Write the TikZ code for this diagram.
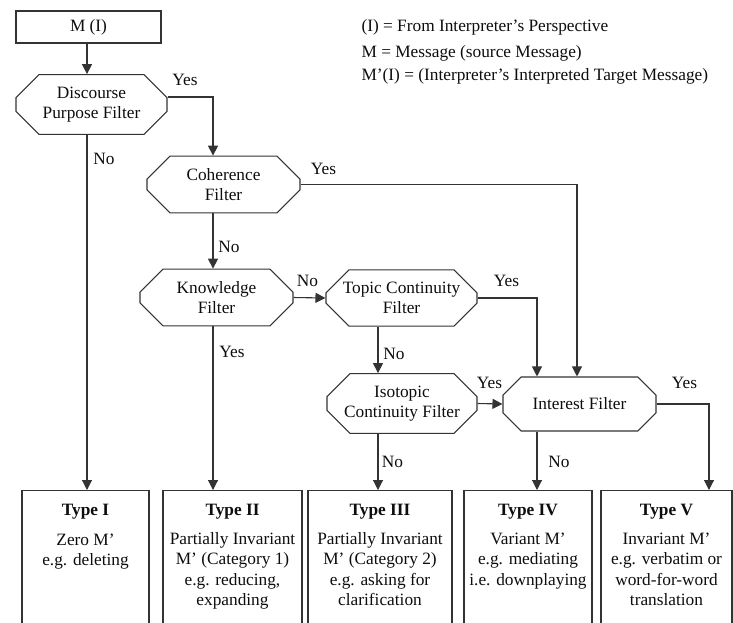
\documentclass[tikz,border=0pt]{standalone}
\usepackage{fontspec}
\setmainfont{Liberation Serif}
\usetikzlibrary{positioning,shapes.misc,arrows.meta,calc}

\tikzset{
  filter/.style={draw, chamfered rectangle, chamfered rectangle xsep=11pt, chamfered rectangle ysep=12pt, minimum width=151pt, minimum height=53pt, inner sep=0pt, align=center},
  typebox/.style={draw, rectangle, minimum height=140pt, anchor=north, inner sep=0pt},
  typetext/.style={anchor=north, align=center, inner sep=0pt},
  lbl/.style={inner sep=0pt},
  flow/.style={-{Triangle[width=10pt,length=10pt]}},
}

\begin{document}
\begin{tikzpicture}[x=1pt, y=-1pt, line width=1.1pt, black!80, text=black!95, font=\fontsize{17.3}{20.5}\selectfont]
  \useasboundingbox (0,0) rectangle (733,622);
  \clip (0,0) rectangle (733,622);
  % columns of the vertical connectors
  \coordinate (colA) at (87,0);
  \coordinate (colB) at (213,0);
  \coordinate (colC) at (378,0);
  \coordinate (colD) at (537,0);
  \coordinate (colE) at (577,0);
  \coordinate (colF) at (709,0);

  % legend
  \node[anchor=base west, inner sep=0pt] (leg1) at (361,31) {(I) = From Interpreter's Perspective};
  \node[anchor=base west, inner sep=0pt] (leg2) at (361,57) {M = Message (source Message)};
  \node[anchor=base west, inner sep=0pt] (leg3) at (361,80) {M'(I) = (Interpreter's Interpreted Target Message)};

  % filters
  \node[draw, rectangle, minimum width=145pt, minimum height=32pt] (mi) at (88.5,27) {M (I)};
  \node[filter] (disc) at (91.5,104.5) {Discourse\\Purpose Filter};
  \node[filter, minimum width=153pt] (coh) at (223.5,184.5) {Coherence\\Filter};
  \node[filter, minimum width=153pt] (know) at (216.5,297.5) {Knowledge\\Filter};
  \node[filter, minimum height=52pt] (topic) at (401.5,298) {Topic Continuity\\Filter};
  \node[filter, minimum width=150pt] (iso) at (402,403.5) {Isotopic\\Continuity Filter};
  \node[filter, minimum width=153pt, minimum height=54pt] (intr) at (579.5,404) {Interest Filter};

  % outcome types
  \node[typebox, minimum width=127pt] (typeI) at (85.5,490) {};
  \node[typebox, minimum width=139pt] (typeII) at (232.5,490) {};
  \node[typebox, minimum width=144pt] (typeIII) at (380,490) {};
  \node[typebox, minimum width=128pt] (typeIV) at (528,490) {};
  \node[typebox, minimum width=131pt] (typeV) at (666.5,490) {};
  \node[typetext] (typeItxt) at ([yshift=-14pt]typeI.north) {\textbf{Type I}\\[9pt]Zero M'\\e.g. deleting};
  \node[typetext] (typeIItxt) at ([yshift=-14pt]typeII.north) {\textbf{Type II}\\[8pt]Partially Invariant\\M' (Category 1)\\e.g. reducing,\\expanding};
  \node[typetext] (typeIIItxt) at ([yshift=-14pt]typeIII.north) {\textbf{Type III}\\[8pt]Partially Invariant\\M' (Category 2)\\e.g. asking for\\clarification};
  \node[typetext] (typeIVtxt) at ([yshift=-14pt]typeIV.north) {\textbf{Type IV}\\[8pt]Variant M'\\e.g. mediating\\i.e. downplaying};
  \node[typetext] (typeVtxt) at ([yshift=-14pt]typeV.north) {\textbf{Type V}\\[8pt]Invariant M'\\e.g. verbatim or\\word-for-word\\translation};

  % connectors
  \draw[flow] (mi.south -| colA) -- (disc.north -| colA);
  \draw[flow] ([yshift=7.5pt]disc.east) -| (coh.north -| colB);
  \draw[flow] (disc.south -| colA) -- (typeI.north -| colA);
  \draw[flow] (coh.east) -| (intr.north -| colE);
  \draw[flow] (coh.south -| colB) -- (know.north -| colB);
  \draw[flow] (know.east) -- (topic.west);
  \draw[flow] (know.south -| colB) -- (typeII.north -| colB);
  \draw[flow] (topic.east) -| (intr.north -| colD);
  \draw[flow] (topic.south -| colC) -- (iso.north -| colC);
  \draw[flow] (iso.east) -- (intr.west);
  \draw[flow] (iso.south -| colC) -- (typeIII.north -| colC);
  \draw[flow] (intr.south -| colD) -- (typeIV.north -| colD);
  \draw[flow] (intr.east) -| (typeV.north -| colF);

  % yes/no labels
  \node[lbl] (discyes) at (185,80) {Yes};
  \node[lbl] (discno) at (104,159) {No};
  \node[lbl] (cohyes) at (323.5,169) {Yes};
  \node[lbl] (cohno) at (229,247) {No};
  \node[lbl] (knowno) at (307.5,281) {No};
  \node[lbl] (knowyes) at (232,352) {Yes};
  \node[lbl] (topicyes) at (506.5,281) {Yes};
  \node[lbl] (topicno) at (394,354) {No};
  \node[lbl] (isoyes) at (489.5,383) {Yes};
  \node[lbl] (isono) at (392.5,462) {No};
  \node[lbl] (intryes) at (684.5,383) {Yes};
  \node[lbl] (intrno) at (559,462) {No};
\end{tikzpicture}
\end{document}
